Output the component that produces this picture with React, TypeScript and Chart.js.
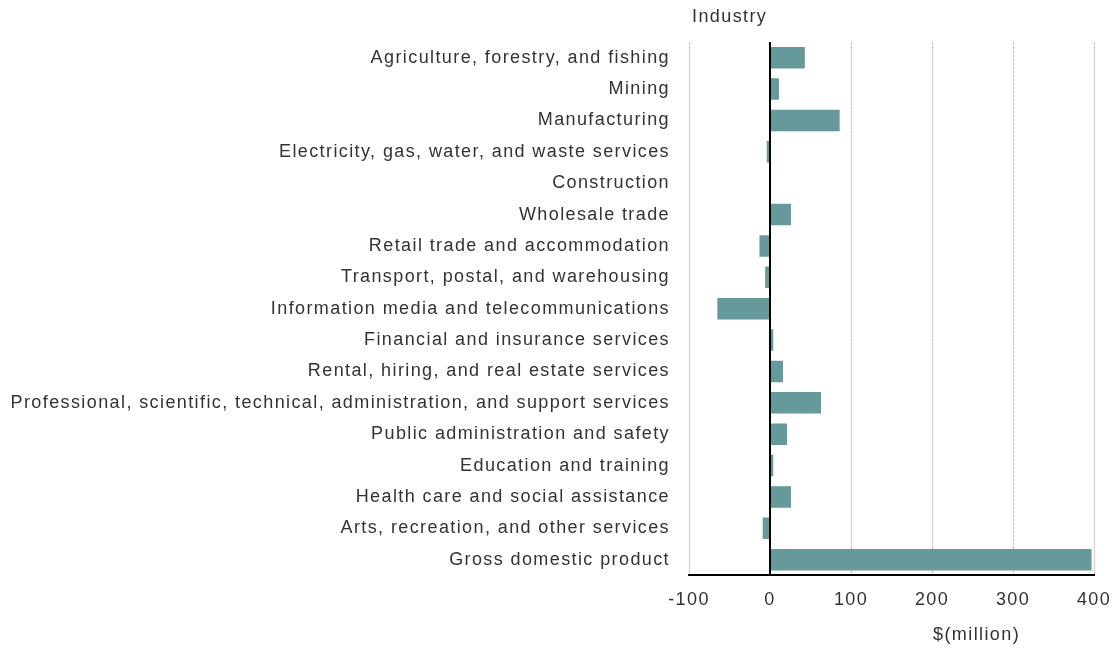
import React, { useEffect, useRef } from "react";
import { Chart, registerables } from "chart.js";

Chart.register(...registerables);

const industries: string[] = [
  "Agriculture, forestry, and fishing",
  "Mining",
  "Manufacturing",
  "Electricity, gas, water, and waste services",
  "Construction",
  "Wholesale trade",
  "Retail trade and accommodation",
  "Transport, postal, and warehousing",
  "Information media and telecommunications",
  "Financial and insurance services",
  "Rental, hiring, and real estate services",
  "Professional, scientific, technical, administration, and support services",
  "Public administration and safety",
  "Education and training",
  "Health care and social assistance",
  "Arts, recreation, and other services",
  "Gross domestic product",
];

const changeMillion: number[] = [
  43, 11, 86, -4, 0, 26, -13, -6, -65, 4, 16, 63, 21, 4, 26, -9, 397,
];

const xMin = -100;
const xMax = 400;
const xStep = 100;
const yAxisTitle = "Industry";
const xAxisTitle = "$(million)";

const FONT = "'Liberation Sans', Arial, sans-serif";
const FONT_SIZE = 18;
const SPACING = "1.4px";
const TEXT = "#333333";

export default function App() {
  const ref = useRef<HTMLCanvasElement | null>(null);

  useEffect(() => {
    document.body.style.margin = "0";
    const canvas = ref.current;
    if (!canvas) return;

    const setSpacing = (chart: any) => {
      try {
        (chart.ctx as any).letterSpacing = SPACING;
      } catch (e) {
        /* ignore */
      }
    };

    const overlay = {
      id: "overlay",
      beforeLayout(chart: any) {
        setSpacing(chart);
      },
      beforeDraw(chart: any) {
        setSpacing(chart);
      },
      afterDatasetsDraw(chart: any) {
        const { ctx, chartArea, scales } = chart;
        const x = scales.x;
        const zx = x.getPixelForValue(0);
        ctx.save();
        ctx.strokeStyle = "#000000";
        ctx.lineWidth = 2;
        ctx.setLineDash([]);
        ctx.beginPath();
        ctx.moveTo(zx, chartArea.top);
        ctx.lineTo(zx, chartArea.bottom);
        ctx.stroke();
        ctx.fillStyle = TEXT;
        ctx.font = `${FONT_SIZE}px ${FONT}`;
        ctx.textBaseline = "middle";
        ctx.textAlign = "left";
        ctx.fillText(yAxisTitle, chartArea.left + 3, 17);
        ctx.textAlign = "center";
        ctx.fillText(xAxisTitle, x.getPixelForValue(255), 635);
        ctx.restore();
      },
    };

    const chart = new Chart(canvas, {
      type: "bar",
      data: {
        labels: industries,
        datasets: [
          {
            data: changeMillion,
            backgroundColor: "#669999",
            borderWidth: 0,
            barPercentage: 0.9,
            categoryPercentage: 0.76,
          },
        ],
      },
      options: {
        indexAxis: "y",
        animation: false,
        responsive: false,
        maintainAspectRatio: false,
        layout: { padding: { top: 42, right: 23, bottom: 26, left: 0 } },
        plugins: {
          legend: { display: false },
          tooltip: { enabled: false },
          title: { display: false },
        },
        scales: {
          x: {
            type: "linear",
            min: xMin,
            max: xMax,
            ticks: {
              stepSize: xStep,
              color: TEXT,
              font: { family: FONT, size: FONT_SIZE },
              padding: 14,
            },
            grid: {
              color: "#c0c0c0",
              lineWidth: 1,
              drawTicks: false,
            },
            border: { display: true, color: "#000000", width: 2, dash: [3, 1] },
            afterFit: (scale: any) => {
              scale.paddingRight = 0;
              scale.paddingLeft = 0;
            },
          },
          y: {
            type: "category",
            ticks: {
              color: TEXT,
              font: { family: FONT, size: FONT_SIZE },
              padding: 19,
              autoSkip: false,
            },
            grid: { display: false, drawTicks: false },
            border: { display: false },
            afterFit: (scale: any) => {
              scale.width = 689;
            },
          },
        },
      },
      plugins: [overlay],
    });

    return () => chart.destroy();
  }, []);

  return (
    <div style={{ width: 1117, height: 651 }}>
      <canvas ref={ref} width={1117} height={651} />
    </div>
  );
}
